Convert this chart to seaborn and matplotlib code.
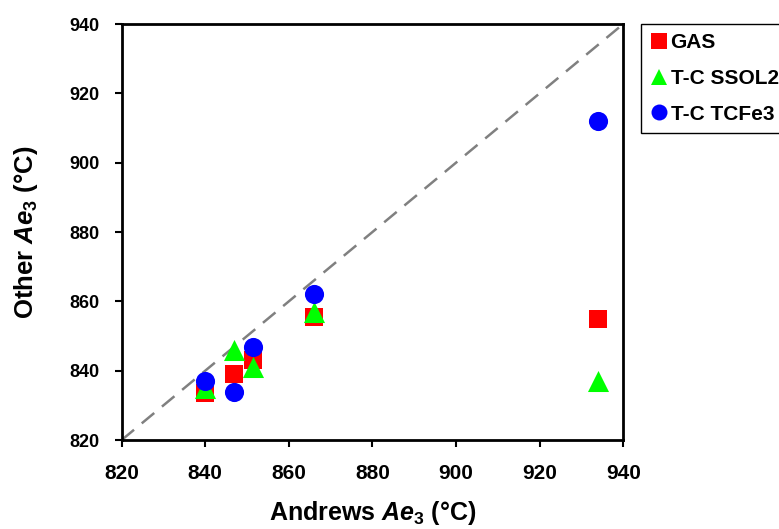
import matplotlib
matplotlib.use("Agg")
import matplotlib.pyplot as plt
from matplotlib.lines import Line2D
import seaborn as sns
import pandas as pd

# ---- data ----
andrews = [840, 847, 851.5, 866, 934]
gas = [833.5, 839, 843, 855.5, 855]
ssol2 = [835, 846, 841, 857, 837]
tcfe3 = [837, 834, 847, 862, 912]
series_names = ["GAS", "T-C SSOL2", "T-C TCFe3"]
ticks = [820, 840, 860, 880, 900, 920, 940]

sns.set_theme(style="ticks")

fam = "Liberation Sans"
plt.rcParams["font.family"] = [fam, "DejaVu Sans"]
plt.rcParams["font.weight"] = "bold"
plt.rcParams["text.color"] = "black"
plt.rcParams["axes.labelcolor"] = "black"
plt.rcParams["xtick.color"] = "black"
plt.rcParams["ytick.color"] = "black"
plt.rcParams["mathtext.fontset"] = "custom"
plt.rcParams["mathtext.it"] = f"{fam}:bold:italic"
plt.rcParams["mathtext.rm"] = f"{fam}:bold"
plt.rcParams["mathtext.bf"] = f"{fam}:bold"

rows = []
for name, vals in zip(series_names, [gas, ssol2, tcfe3]):
    for xv, yv in zip(andrews, vals):
        rows.append({"Andrews": xv, "Other": yv, "Series": name})
df = pd.DataFrame(rows)

colors = {"GAS": "#FF0000", "T-C SSOL2": "#00FF00", "T-C TCFe3": "#0000FF"}
markers = {"GAS": "s", "T-C SSOL2": "^", "T-C TCFe3": "o"}
sizes = {"GAS": 180, "T-C SSOL2": 230, "T-C TCFe3": 190}

fig = plt.figure(figsize=(7.79, 5.29), dpi=100)
ax = fig.add_axes([0.156, 0.168, 0.644, 0.7866])

ax.plot([820, 940], [820, 940], color="#808080", lw=1.8, dashes=(6.5, 4), zorder=1)

for name in series_names:
    sub = df[df["Series"] == name]
    sns.scatterplot(data=sub, x="Andrews", y="Other", color=colors[name],
                    marker=markers[name], s=sizes[name], linewidth=0,
                    ax=ax, zorder=3, legend=False)

ax.set_xlim(820, 940)
ax.set_ylim(820, 940)
ax.set_xticks(ticks)
ax.set_yticks(ticks)
ax.tick_params(axis="both", direction="out", length=5, width=1.5, color="black",
               labelcolor="black")
ax.tick_params(axis="x", labelsize=15, pad=12)
ax.tick_params(axis="y", labelsize=13, pad=11)
for lab in ax.get_xticklabels() + ax.get_yticklabels():
    lab.set_fontweight("bold")
for sp in ax.spines.values():
    sp.set_visible(True)
    sp.set_linewidth(2)
    sp.set_color("black")

ax.set_xlabel(r"Andrews $\mathit{Ae_3}$ (°C)", fontsize=18, fontweight="bold", labelpad=12)
ax.set_ylabel(r"Other $\mathit{Ae_3}$ (°C)", fontsize=18.5, fontweight="bold", labelpad=21)

handles = [Line2D([], [], linestyle="none", marker=markers[n], color=colors[n],
                  markersize={"GAS": 11, "T-C SSOL2": 12, "T-C TCFe3": 11.5}[n],
                  markeredgewidth=0)
           for n in series_names]
leg = fig.legend(handles, series_names, loc="upper left", bbox_to_anchor=(0.8228, 0.9546),
                 frameon=True, fancybox=False, edgecolor="black", framealpha=1,
                 prop={"weight": "bold", "size": 15}, handlelength=0.8,
                 handletextpad=0.17, borderpad=0.45, labelspacing=0.8, borderaxespad=0)
leg.get_frame().set_linewidth(1)

fig.savefig("out.png", dpi=100)
